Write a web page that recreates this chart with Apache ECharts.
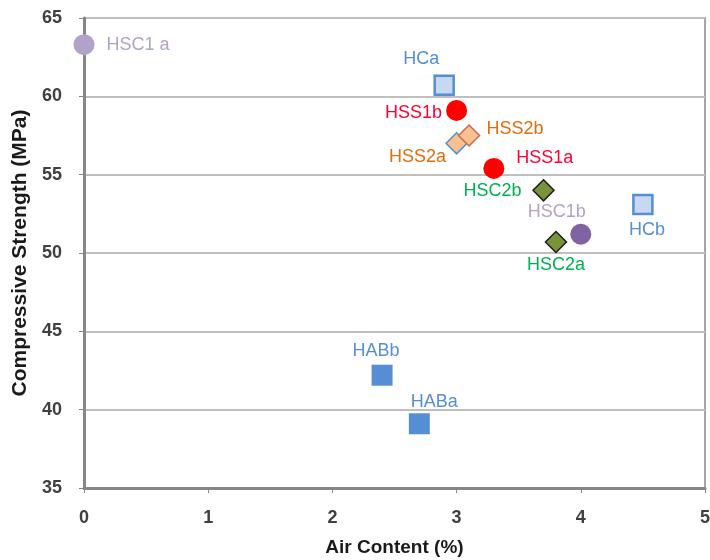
<!DOCTYPE html>
<html><head><meta charset="utf-8">
<script src="https://cdn.jsdelivr.net/npm/echarts@6/dist/echarts.min.js"></script>
<style>html,body{margin:0;padding:0;background:#fff}#c{width:710px;height:560px}</style>
</head><body><div id="c"></div>
<script>
// data: [air content %, compressive strength MPa, label]
const hsc1 = [[0, 63.3, 'HSC1 a'], [4.0, 51.2, 'HSC1b']];
const hss1 = [[3.0, 59.1, 'HSS1b'], [3.3, 55.4, 'HSS1a']];
const hss2 = [[3.0, 57.0, 'HSS2a'], [3.1, 57.5, 'HSS2b']];
const hsc2 = [[3.7, 54.0, 'HSC2b'], [3.8, 50.7, 'HSC2a']];
const hc = [[2.9, 60.7, 'HCa'], [4.5, 53.1, 'HCb']];
const hab = [[2.4, 42.2, 'HABb'], [2.7, 39.1, 'HABa']];
const xTicks = [0, 1, 2, 3, 4, 5];
const yTicks = [35, 40, 45, 50, 55, 60, 65];

const font = 'Liberation Sans, Arial, sans-serif';
function lbl(color, off) {
  return {show: true, formatter: p => p.data.value[2], color: color, fontSize: 18, fontFamily: font,
    position: 'inside', offset: off};
}
function items(arr, styles) {
  return arr.map((d, i) => Object.assign({value: d}, styles[i]));
}
const chart = echarts.init(document.getElementById('c'));
chart.setOption({
  animation: false,
  grid: {left: 84, right: 5, top: 18, bottom: 72, show: true, borderColor: '#a6a6a6', borderWidth: 2,
    containLabel: false, outerBoundsMode: 'none'},
  xAxis: {type: 'value', min: 0, max: 5, interval: 1,
    name: 'Air Content (%)', nameLocation: 'middle', nameGap: 50,
    nameTextStyle: {fontFamily: font, fontWeight: 'bold', fontSize: 19, color: '#1a1a1a'},
    axisLine: {lineStyle: {color: '#868686', width: 3}},
    axisTick: {show: true, length: 5, lineStyle: {color: '#868686', width: 1}},
    axisLabel: {fontFamily: font, fontWeight: 'bold', fontSize: 18, color: '#404040', margin: 21,
      formatter: v => xTicks.includes(v) ? String(v) : ''},
    splitLine: {show: false}},
  yAxis: {type: 'value', min: 35, max: 65, interval: 5,
    name: 'Compressive Strength (MPa)', nameLocation: 'middle', nameGap: 53,
    nameTextStyle: {fontFamily: font, fontWeight: 'bold', fontSize: 21, color: '#1a1a1a'},
    axisLine: {show: true, lineStyle: {color: '#868686', width: 3}},
    axisTick: {show: true, length: 5, lineStyle: {color: '#868686', width: 1}},
    axisLabel: {fontFamily: font, fontWeight: 'bold', fontSize: 18, color: '#404040', margin: 22,
      formatter: v => yTicks.includes(v) ? String(v) : ''},
    splitLine: {show: true, lineStyle: {color: '#bfbfbf', width: 2}}},
  series: [
    {type: 'scatter', symbol: 'circle', symbolSize: 21,
      data: items(hsc1, [
        {itemStyle: {color: '#b3a2c7', opacity: 1}, label: lbl('#b3a2c7', [54, 0])},
        {itemStyle: {color: '#8064a2', opacity: 1}, label: lbl('#b3a2c7', [-24, -22])}])},
    {type: 'scatter', symbol: 'circle', symbolSize: 21, itemStyle: {color: '#ff0000', opacity: 1},
      data: items(hss1, [
        {label: lbl('#ff0033', [-43, 3])},
        {label: lbl('#ff0033', [51, -10])}])},
    {type: 'scatter', symbol: 'diamond', symbolSize: 21,
      itemStyle: {color: '#fac090', borderColor: '#c0704a', borderWidth: 1.5, opacity: 1},
      data: items(hss2, [
        {itemStyle: {borderColor: '#558ed5'}, label: lbl('#e46c0a', [-39, 14])},
        {label: lbl('#e46c0a', [46, -6])}])},
    {type: 'scatter', symbol: 'diamond', symbolSize: 21,
      itemStyle: {color: '#77933c', borderColor: '#1d1d1d', borderWidth: 1.5, opacity: 1},
      data: items(hsc2, [
        {label: lbl('#00b050', [-51, 1])},
        {label: lbl('#00b050', [0, 23])}])},
    {type: 'scatter', symbol: 'rect', symbolSize: 19,
      itemStyle: {color: '#c6d9f1', borderColor: '#558ed5', borderWidth: 2.5, opacity: 1},
      data: items(hc, [
        {label: lbl('#558ed5', [-23, -26])},
        {label: lbl('#558ed5', [4, 26])}])},
    {type: 'scatter', symbol: 'rect', symbolSize: 21, itemStyle: {color: '#558ed5', opacity: 1},
      data: items(hab, [
        {label: lbl('#558ed5', [-6, -24])},
        {label: lbl('#558ed5', [15, -22])}])}
  ]
});
</script></body></html>
